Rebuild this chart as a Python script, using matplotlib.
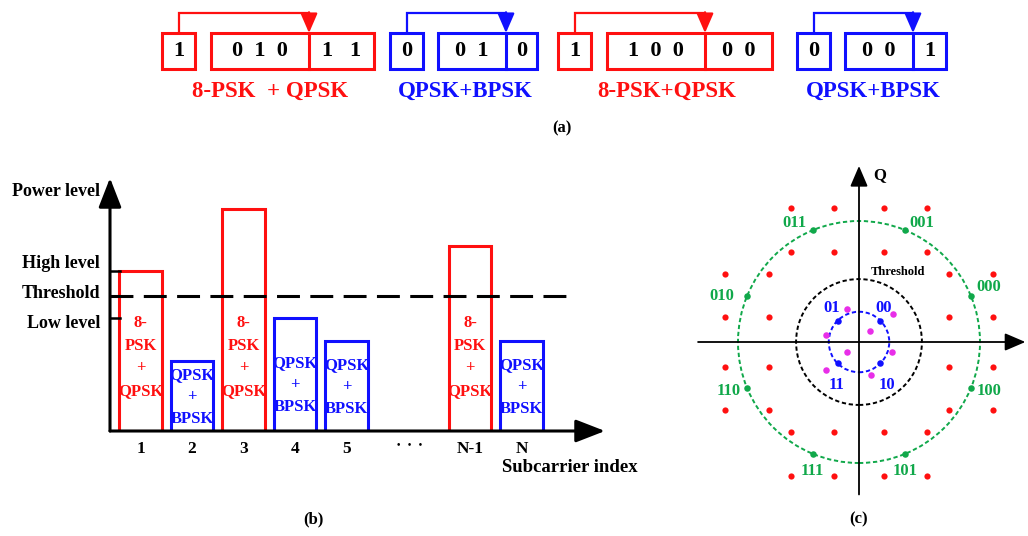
import numpy as np
import matplotlib
matplotlib.use("Agg")
import matplotlib.pyplot as plt
from matplotlib.patches import Rectangle, Circle

plt.rcParams['font.family'] = ['Liberation Serif', 'DejaVu Serif']
plt.rcParams['font.weight'] = 'bold'

RED = '#ff1010'
BLUE = '#1010ff'
GREEN = '#10a84a'
MAGENTA = '#e82ee8'

# (a) bit mapping for four consecutive subcarriers
flag_bits = ['1', '0', '1', '0']
first_bits = ['0  1  0', '0  1', '1  0  0', '0  0']
second_bits = ['1   1', '0', '0  0', '1']
schemes = ['8-PSK  + QPSK', 'QPSK+BPSK', '8-PSK+QPSK', 'QPSK+BPSK']

# (b) power level per subcarrier
sub_labels = ['1', '2', '3', '4', '5', 'N-1', 'N']
sub_pos = [1, 2, 3, 4, 5, 7.4, 8.4]
sub_power = [4.0, 1.75, 5.55, 2.83, 2.25, 4.63, 2.25]
sub_high = [True, False, True, False, False, True, False]
high_level = 4.0
threshold = 3.38
low_level = 2.83

# (c) constellation: 8-PSK outer ring, QPSK inner ring
psk8_angle = [22.5, 67.5, 112.5, 157.5, 202.5, 247.5, 292.5, 337.5]
psk8_label = ['000', '001', '011', '010', '110', '111', '101', '100']
qpsk_offset_i = [0.18, -0.18, -0.18, 0.18]
qpsk_offset_q = [0.18, 0.18, -0.18, -0.18]
inner_angle = [45, 135, 225, 315]
inner_label = ['00', '01', '11', '10']
inner_radius = 0.25
bpsk_i = [-0.10, 0.283, -0.275, 0.091, -0.10, 0.275, -0.275, 0.10]
bpsk_q = [0.275, 0.234, 0.06, 0.088, -0.083, -0.083, -0.229, -0.27]
threshold_radius = 0.52

W, H = 1028, 536
fig = plt.figure(figsize=(W / 100, H / 100), dpi=100)

# full-figure canvas in pixel units for panel (a) and free labels
ax = fig.add_axes([0, 0, 1, 1])
ax.set_xlim(0, W)
ax.set_ylim(H, 0)
ax.axis('off')

# ---------- (a) ----------
flag_x = [162, 390, 558, 797]
main_x = [211, 438, 607, 845]
main_w = [163, 99, 165, 101]
split_w = [98, 68, 98, 68]
top, bot = 33, 69
for k in range(4):
    c = RED if k % 2 == 0 else BLUE
    ax.add_patch(Rectangle((flag_x[k], top), 33, bot - top, fill=False, ec=c, lw=2.2))
    ax.add_patch(Rectangle((main_x[k], top), main_w[k], bot - top, fill=False, ec=c, lw=2.2))
    xd = main_x[k] + split_w[k]
    ax.plot([xd, xd], [top, bot], color=c, lw=2.2)
    x0 = flag_x[k] + 16.5
    ax.plot([x0, x0, xd], [top, 13, 13], color=c, lw=1.6, solid_joinstyle='miter')
    ax.annotate('', xy=(xd, top), xytext=(xd, 12.3),
                arrowprops=dict(arrowstyle='-|>,head_length=0.6,head_width=0.26',
                                color=c, lw=1.6, shrinkA=0, shrinkB=0, mutation_scale=20))
    ym = (top + bot) / 2
    ax.text(x0, ym, flag_bits[k], ha='center', va='center', fontsize=16)
    ax.text(main_x[k] + split_w[k] / 2, ym, first_bits[k], ha='center', va='center', fontsize=16)
    ax.text((xd + main_x[k] + main_w[k]) / 2, ym, second_bits[k], ha='center', va='center', fontsize=16)
    lx = (flag_x[k] + main_x[k] + main_w[k]) / 2
    ax.text(lx + 2, 91, schemes[k], ha='center', va='center', fontsize=16.5, color=c)
ax.text(562, 128, '(a)', ha='center', va='center', fontsize=12)

# ---------- (b) ----------
px0, px1, py0, py1 = 110, 605, 431, 178
axb = fig.add_axes([px0 / W, (H - py0) / H, (px1 - px0) / W, (py0 - py1) / H])
axb.patch.set_alpha(0)
xmin = 1 + (px0 - 140.5) / 51.5
xmax = 1 + (px1 - 140.5) / 51.5
ymax = (py0 - py1) / 40
axb.set_xlim(xmin, xmax)
axb.set_ylim(0, ymax)
for s in axb.spines.values():
    s.set_visible(False)
axb.set_yticks([])

colors = [RED if h else BLUE for h in sub_high]
axb.bar(sub_pos, sub_power, width=0.82, fill=False, edgecolor=colors, linewidth=2.2, zorder=2)
for x, h, hi in zip(sub_pos, sub_power, sub_high):
    if hi:
        axb.text(x, 1.85, '8-\nPSK\n+\nQPSK', ha='center', va='center', color=RED,
                 fontsize=12, linespacing=1.55)
    else:
        axb.text(x, min(1.15, h / 2 - 0.03), 'QPSK\n+\nBPSK', ha='center', va='center', color=BLUE,
                 fontsize=12, linespacing=1.5)

xthr = 1 + (573 - 140.5) / 51.5
axb.plot([xmin, xthr], [threshold, threshold], color='k', lw=2.2, dashes=(7.5, 3.4), zorder=3)
for lvl in (high_level, low_level):
    axb.plot([xmin, xmin + 0.2], [lvl, lvl], color='k', lw=1.8, zorder=3)

arrow = dict(arrowstyle='-|>,head_length=0.9,head_width=0.35', color='k', lw=2.2,
             shrinkA=0, shrinkB=0, mutation_scale=20)
axb.annotate('', xy=(xmax, 0), xytext=(xmin, 0), arrowprops=arrow, annotation_clip=False, zorder=4)
axb.annotate('', xy=(xmin, ymax), xytext=(xmin, 0), arrowprops=arrow, annotation_clip=False, zorder=4)

axb.set_xticks(sub_pos + [6.22], sub_labels + ['\u2022   \u2022   \u2022'])
axb.tick_params(axis='x', length=0, pad=7, labelsize=12.5)
axb.get_xticklabels()[-1].set_fontsize(7)

ax.text(100, 191, 'Power level', ha='right', va='center', fontsize=13)
ax.text(100, 263, 'High level', ha='right', va='center', fontsize=13)
ax.text(100, 294, 'Threshold', ha='right', va='center', fontsize=13)
ax.text(100, 323, 'Low level', ha='right', va='center', fontsize=13)
ax.text(570, 468, 'Subcarrier index', ha='center', va='center', fontsize=13.5)
ax.text(313, 519, '(b)', ha='center', va='center', fontsize=12)

# ---------- (c) ----------
cx, cy, unit = 859, 342, 121
axc = fig.add_axes([(cx - 1.4 * unit) / W, (H - cy - 1.5 * unit) / H, 2.8 * unit / W, 3.0 * unit / H])
axc.set_xlim(-1.4, 1.4)
axc.set_ylim(-1.5, 1.5)
axc.axis('off')
axc.patch.set_alpha(0)

small_arrow = dict(arrowstyle='-|>,head_length=0.7,head_width=0.3', color='k', lw=1.3,
                   shrinkA=0, shrinkB=0, mutation_scale=18)
axc.annotate('', xy=(1.375, 0), xytext=(-1.33, 0), arrowprops=small_arrow, annotation_clip=False)
axc.annotate('', xy=(0, 1.455), xytext=(0, -1.26), arrowprops=small_arrow, annotation_clip=False)

axc.add_patch(Circle((0, 0), 1.0, fill=False, ec=GREEN, lw=1.4, ls=(0, (2.2, 1.4))))
axc.add_patch(Circle((0, 0), threshold_radius, fill=False, ec='k', lw=1.4, ls=(0, (2.2, 1.4))))
axc.add_patch(Circle((0, 0), inner_radius, fill=False, ec=BLUE, lw=1.4, ls=(0, (2.2, 1.4))))

a8 = np.deg2rad(psk8_angle)
pi, pq = np.cos(a8), np.sin(a8)
red_i = np.add.outer(pi, qpsk_offset_i).ravel()
red_q = np.add.outer(pq, qpsk_offset_q).ravel()
axc.scatter(red_i, red_q, s=20, color=RED, lw=0, zorder=3)
axc.scatter(pi, pq, s=22, color=GREEN, lw=0, zorder=3)

a4 = np.deg2rad(inner_angle)
axc.scatter(inner_radius * np.cos(a4), inner_radius * np.sin(a4), s=22, color=BLUE, lw=0, zorder=3)
axc.scatter(bpsk_i, bpsk_q, s=22, color=MAGENTA, lw=0, zorder=3)

# label offsets in pixels (dx right, dy up)
psk8_off = {'000': (18, 9), '001': (17, 7), '011': (-18, 7), '010': (-25, 0),
            '110': (-19, -3), '111': (0, -17), '101': (0, -17), '100': (18, -3)}
for lab, x, y in zip(psk8_label, pi, pq):
    dx, dy = psk8_off[lab]
    axc.annotate(lab, (x, y), xytext=(dx * 0.72, dy * 0.72), textcoords='offset points',
                 ha='center', va='center', color=GREEN, fontsize=12)
inner_off = {'00': (3, 13), '01': (-6, 13), '11': (-1, -22), '10': (7, -22)}
for lab, ang in zip(inner_label, a4):
    dx, dy = inner_off[lab]
    axc.annotate(lab, (inner_radius * np.cos(ang), inner_radius * np.sin(ang)),
                 xytext=(dx * 0.72, dy * 0.72), textcoords='offset points',
                 ha='center', va='center', color=BLUE, fontsize=12)

axc.text(0.32, 0.58, 'Threshold', ha='center', va='center', fontsize=9)
axc.text(0.17, 1.38, 'Q', ha='center', va='center', fontsize=12)
ax.text(859, 519, '(c)', ha='center', va='center', fontsize=12)

fig.savefig('out.png', dpi=100)
plt.close(fig)
